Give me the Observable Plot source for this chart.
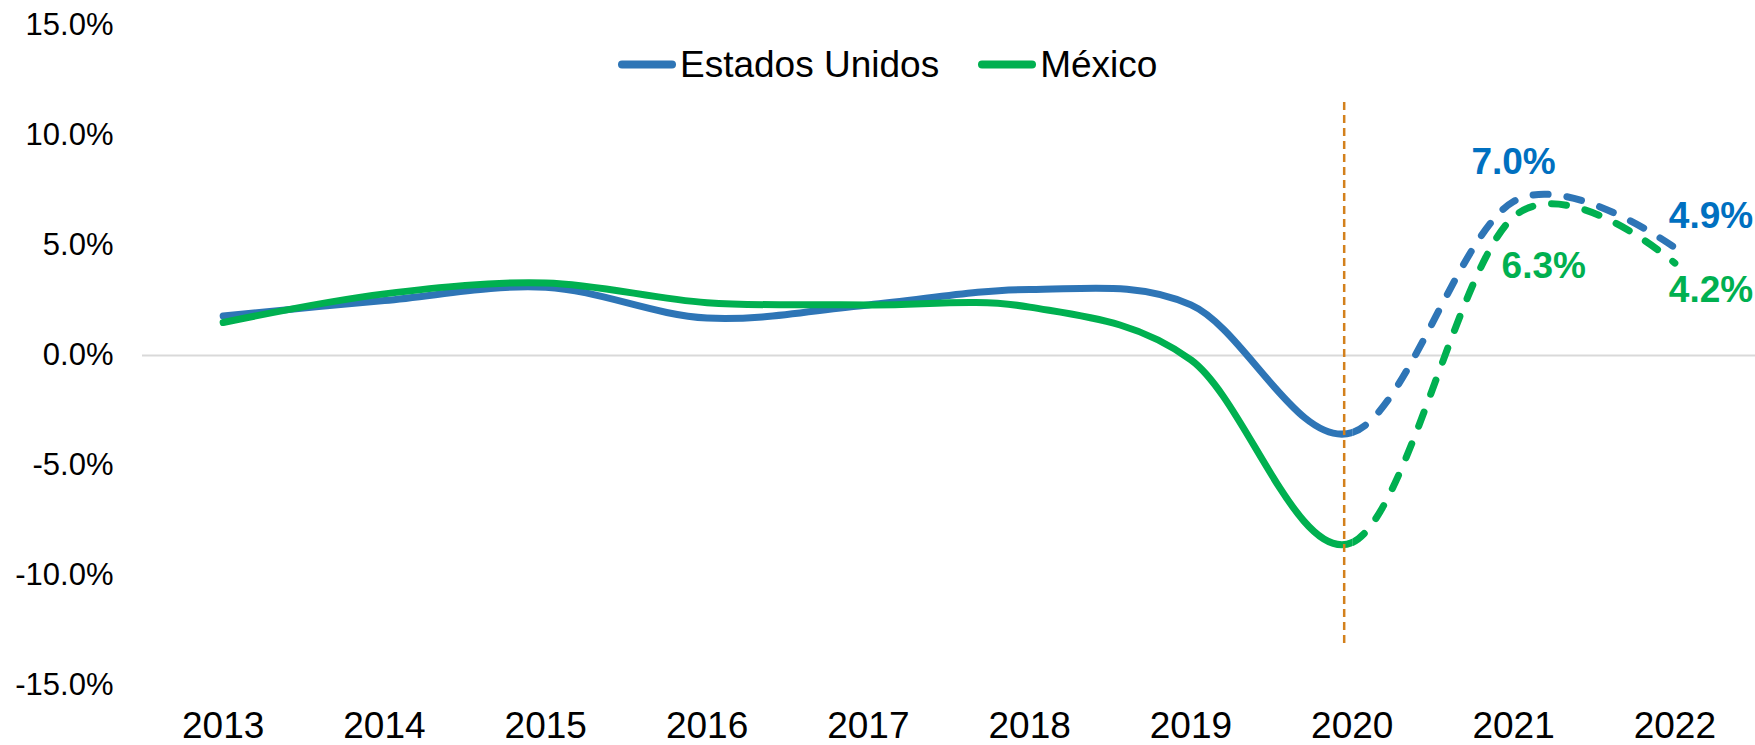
<!DOCTYPE html>
<html>
<head>
<meta charset="utf-8">
<script src="https://cdn.jsdelivr.net/npm/d3@7"></script>
<script src="https://cdn.jsdelivr.net/npm/@observablehq/plot@0.6"></script>
<style>
  body { margin: 0; background: #fff; }
  #wrap { position: relative; width: 1755px; height: 745px; }
  #legend { position: absolute; left: 618px; top: 64px; transform: translateY(-50%);
    display: flex; align-items: center; font-family: "Liberation Sans", Arial, sans-serif;
    font-size: 37px; line-height: 1; color: #000; white-space: nowrap; }
  .sw { display: inline-block; width: 58px; height: 8px; border-radius: 4px; margin-right: 4px; }
</style>
</head>
<body>
<div id="wrap">
  <div id="legend"></div>
</div>
<script>
// ---- data ----
const years = [2013, 2014, 2015, 2016, 2017, 2018, 2019, 2020, 2021, 2022];
const usGrowth = [1.8, 2.5, 3.1, 1.7, 2.3, 3.0, 2.3, -3.5, 7.0, 4.9];
const mxGrowth = [1.5, 2.8, 3.3, 2.4, 2.3, 2.2, -0.2, -8.5, 6.3, 4.2];
const seriesNames = ["Estados Unidos", "México"];
const seriesColors = ["#2e75b6", "#00b050"];
const labelColors = ["#0070c0", "#00b050"];
const yTicks = [-15, -10, -5, 0, 5, 10, 15];
const forecastStart = 2020;
const dividerYear = 2019.95;
const dividerTop = 11.5;
const dividerBottom = -13.3;
const labelSeries = ["Estados Unidos", "México", "Estados Unidos", "México"];
const labelYears = [2021, 2021, 2022, 2022];
const labelValues = [7.0, 6.3, 4.9, 4.2];

// ---- tables ----
const rows = [];
years.forEach((yr, i) => {
  rows.push({year: yr, value: usGrowth[i], series: seriesNames[0]});
});
years.forEach((yr, i) => {
  rows.push({year: yr, value: mxGrowth[i], series: seriesNames[1]});
});
const labelRows = labelYears.map((yr, i) => ({
  year: yr, value: labelValues[i], series: labelSeries[i],
  text: labelValues[i].toFixed(1) + "%"
}));
const labelStyle = [
  {dx: 0, dy: -39, textAnchor: "middle"},
  {dx: -12, dy: 49, textAnchor: "start"},
  {dx: -6, dy: -32, textAnchor: "start"},
  {dx: -6, dy: 27, textAnchor: "start"}
];

const smooth = d3.curveCardinal.tension(0);

const chart = Plot.plot({
  width: 1755,
  height: 745,
  marginLeft: 142,
  marginRight: 0,
  marginTop: 25,
  marginBottom: 60,
  style: {fontFamily: '"Liberation Sans", Arial, sans-serif', fontSize: "31px", color: "#000", background: "#fff"},
  x: {type: "linear", domain: [2012.5, 2022.5], label: null},
  y: {domain: [-15, 15], label: null},
  color: {domain: seriesNames, range: seriesColors},
  marks: [
    Plot.ruleY([0], {stroke: "#d9d9d9", strokeWidth: 2}),
    Plot.axisY({ticks: yTicks, tickFormat: d => d.toFixed(1) + "%", tickSize: 0, tickPadding: 29, fontSize: 31, label: null}),
    Plot.axisX({ticks: years, tickFormat: d => String(d), tickSize: 0, tickPadding: 26, fontSize: 37, label: null}),
    Plot.line(rows, {x: "year", y: "value", z: "series", stroke: "series", strokeWidth: 7,
      strokeLinecap: "round", strokeLinejoin: "round", curve: smooth}),
    Plot.line(rows, {x: "year", y: "value", z: "series", stroke: "series", strokeWidth: 7,
      strokeLinecap: "round", strokeLinejoin: "round", strokeDasharray: "15 19", curve: smooth}),
    Plot.ruleX([dividerYear], {y1: dividerTop, y2: dividerBottom, stroke: "#d3801c", strokeWidth: 2.5, strokeDasharray: "8 5"}),
    ...labelRows.map((r, i) => Plot.text([r], {
      x: "year", y: "value", text: "text",
      fill: labelColors[seriesNames.indexOf(r.series)],
      fontWeight: "bold", fontSize: 37,
      dx: labelStyle[i].dx, dy: labelStyle[i].dy, textAnchor: labelStyle[i].textAnchor
    }))
  ]
});

document.getElementById("wrap").appendChild(chart);

// legend
const legend = document.getElementById("legend");
seriesNames.forEach((name, i) => {
  const item = document.createElement("span");
  item.style.display = "inline-flex";
  item.style.alignItems = "center";
  if (i > 0) item.style.marginLeft = "39px";
  const sw = document.createElement("span");
  sw.className = "sw";
  sw.style.background = seriesColors[i];
  const t = document.createElement("span");
  t.textContent = name;
  item.appendChild(sw);
  item.appendChild(t);
  legend.appendChild(item);
});

// split solid (actual) and dashed (forecast) parts at forecastStart
const NS = "http://www.w3.org/2000/svg";
const xc = chart.scale("x").apply(forecastStart);
const defs = document.createElementNS(NS, "defs");
function makeClip(id, x0, x1) {
  const cp = document.createElementNS(NS, "clipPath");
  cp.setAttribute("id", id);
  const r = document.createElementNS(NS, "rect");
  r.setAttribute("x", x0); r.setAttribute("y", 0);
  r.setAttribute("width", x1 - x0); r.setAttribute("height", 745);
  cp.appendChild(r);
  defs.appendChild(cp);
}
makeClip("solidClip", 0, xc);
makeClip("dashClip", xc, 1755);
chart.insertBefore(defs, chart.firstChild);
const lineGroups = chart.querySelectorAll('g[aria-label="line"]');
if (lineGroups.length >= 2) {
  lineGroups[0].setAttribute("clip-path", "url(#solidClip)");
  lineGroups[1].setAttribute("clip-path", "url(#dashClip)");
  lineGroups[1].querySelectorAll("path").forEach(p => {
    try {
      const total = p.getTotalLength();
      let lo = 0, hi = total;
      for (let k = 0; k < 40; k++) {
        const mid = (lo + hi) / 2;
        if (p.getPointAtLength(mid).x < xc) lo = mid; else hi = mid;
      }
      p.setAttribute("stroke-dashoffset", -lo);
      p.style.strokeDashoffset = -lo;
    } catch (e) {}
  });
}
</script>
</body>
</html>
